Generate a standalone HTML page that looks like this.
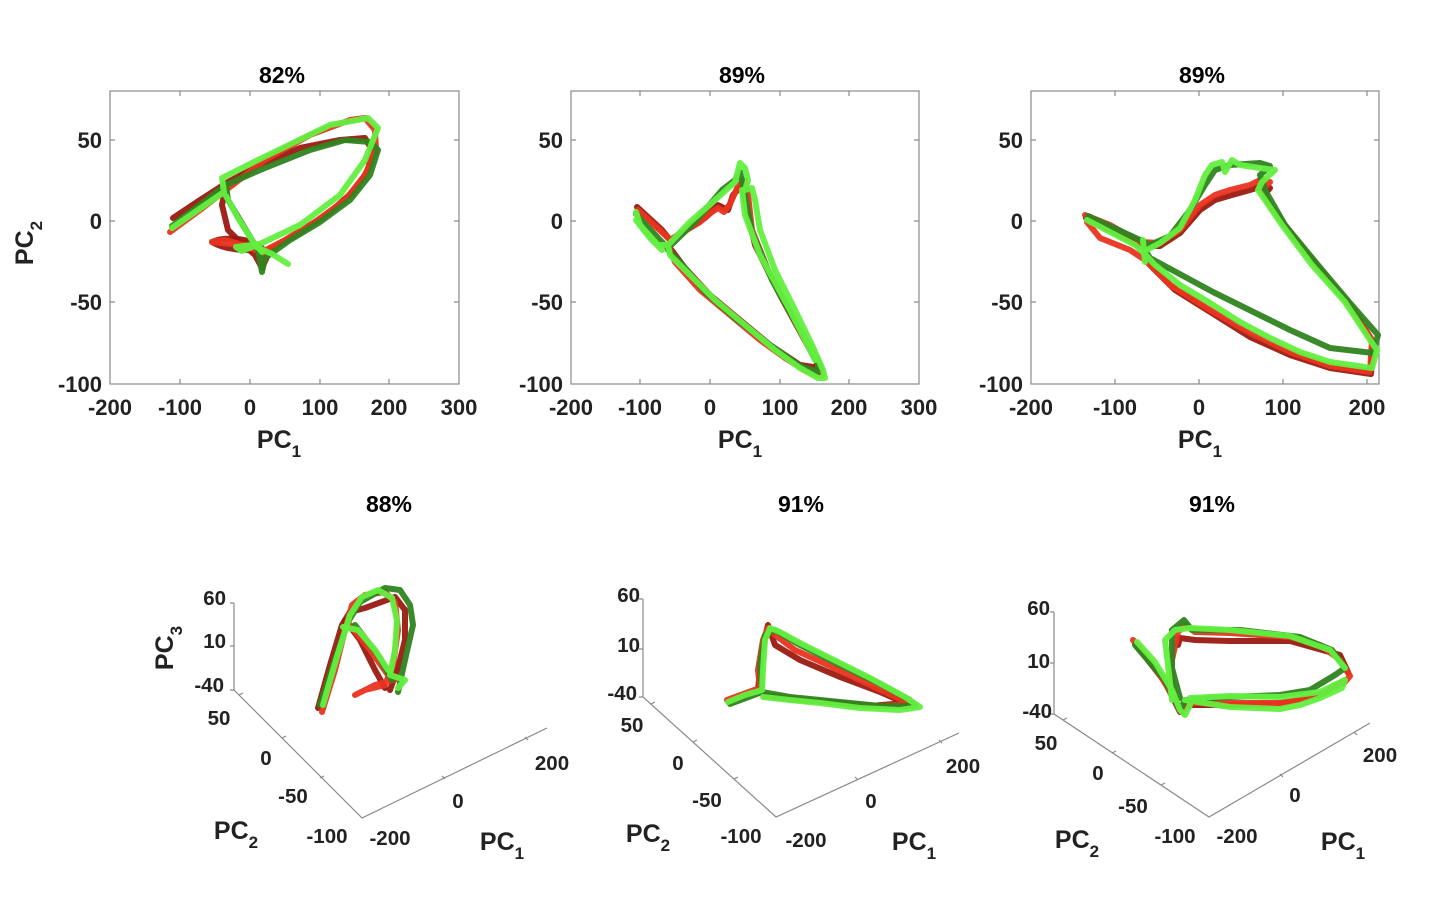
<!DOCTYPE html>
<html><head><meta charset="utf-8"><style>
html,body{margin:0;padding:0;background:#fff;}
svg{display:block;}
text{font-family:"Liberation Sans",Arial,sans-serif;font-weight:bold;fill:#222;}
.t{font-size:22px;}
.b{font-size:20.5px;}
.ttl{font-size:23px;fill:#000;}
.lab{font-size:25px;}
.ax{stroke:#8a8a8a;stroke-width:1.2;fill:none;}
.s{fill:none;stroke-width:6;stroke-linejoin:round;stroke-linecap:round;opacity:0.95;}
.dr{stroke:#9a1a10;}
.rd{stroke:#ea3320;}
.dg{stroke:#2f8420;}
.lg{stroke:#63ef40;}
</style></head><body>
<svg width="1446" height="922" viewBox="0 0 1446 922" xmlns="http://www.w3.org/2000/svg">

<!-- ================= TOP LEFT ================= -->
<text class="ttl" x="282" y="83" text-anchor="middle">82%</text>
<rect class="ax" x="110" y="91" width="349" height="293"/>
<g class="ax">
<path d="M180,384v-5M250,384v-5M320,384v-5M389,384v-5M180,91v5M250,91v5M320,91v5M389,91v5"/>
<path d="M110,140h5M110,221h5M110,302h5M459,140h-5M459,221h-5M459,302h-5"/>
</g>
<g class="t" text-anchor="middle">
<text x="110" y="415">-200</text><text x="180" y="415">-100</text><text x="250" y="415">0</text>
<text x="320" y="415">100</text><text x="389" y="415">200</text><text x="459" y="415">300</text>
</g>
<g class="t" text-anchor="end">
<text x="102" y="148">50</text><text x="102" y="229">0</text><text x="102" y="310">-50</text><text x="102" y="392">-100</text>
</g>
<text class="lab" x="279" y="448" text-anchor="middle">PC<tspan font-size="17" dy="9">1</tspan></text>
<text class="lab" transform="translate(33,243) rotate(-90)" text-anchor="middle">PC<tspan font-size="17" dy="9">2</tspan></text>

<polyline class="s dr" points="173,218 200,200 228,182 260,165 300,148 340,140 365,138 372,150 368,170 355,190 330,212 300,232 270,250 262,268 255,255 240,242 228,230 222,205 226,185"/>
<path class="s dr" d="M212,242 C225,236 250,238 262,248 C250,252 225,250 212,242"/>
<polyline class="s rd" points="170,232 200,210 226,190 265,160 310,135 350,120 365,118 375,130 376,150 365,175 345,200 315,222 285,240 262,252 240,245 212,242 225,240 255,248 265,258"/>
<polyline class="s dg" points="172,226 226,185 260,170 310,150 345,140 370,142 378,150 370,175 350,200 320,222 290,240 265,258 262,272 258,250 240,220 228,200 226,185"/>
<polyline class="s lg" points="172,228 224,192 222,178 262,158 330,125 368,118 378,128 365,160 340,195 300,225 262,243 242,251 236,247 252,245 272,254 288,264"/>
<polyline class="s lg" points="226,196 238,218 252,240 262,252"/>

<!-- ================= TOP MIDDLE ================= -->
<text class="ttl" x="742" y="83" text-anchor="middle">89%</text>
<rect class="ax" x="571" y="91" width="348" height="293"/>
<g class="ax">
<path d="M640,384v-5M710,384v-5M780,384v-5M849,384v-5M640,91v5M710,91v5M780,91v5M849,91v5"/>
<path d="M571,140h5M571,221h5M571,302h5M919,140h-5M919,221h-5M919,302h-5"/>
</g>
<g class="t" text-anchor="middle">
<text x="571" y="415">-200</text><text x="640" y="415">-100</text><text x="710" y="415">0</text>
<text x="780" y="415">100</text><text x="849" y="415">200</text><text x="919" y="415">300</text>
</g>
<g class="t" text-anchor="end">
<text x="563" y="148">50</text><text x="563" y="229">0</text><text x="563" y="310">-50</text><text x="563" y="392">-100</text>
</g>
<text class="lab" x="740" y="448" text-anchor="middle">PC<tspan font-size="17" dy="9">1</tspan></text>

<polyline class="s dr" points="637,207 662,230 670,240 705,218 718,205 728,210 733,195 742,185 746,205 755,245 780,295 810,350 820,368 800,365 770,345 740,320 710,295 685,268 670,248"/>
<polyline class="s rd" points="638,210 665,235 670,240 700,222 712,212 718,208 724,212 730,204 738,186 745,180 748,195 752,230 770,275 795,320 820,365 822,375 808,372 785,358 760,340 730,315 700,290 675,262 668,245"/>
<polyline class="s dg" points="636,214 660,240 668,248 695,222 722,190 735,180 740,172 745,195 752,232 772,280 800,330 818,362 818,372 800,366 770,345 735,318 705,292 680,262 668,250"/>
<polyline class="s lg" points="636,212 640,225 658,245 668,245 690,222 715,200 735,182 740,163 745,168 748,180 745,190 752,188 755,200 760,230 775,270 795,310 812,345 823,370 825,378 818,378 800,368 775,350 745,325 715,300 690,275 670,255 668,245"/>
<polyline class="s lg" points="742,190 745,215 760,255 790,310 815,360"/>
<polyline class="s lg" points="636,220 650,238 662,250"/>

<!-- ================= TOP RIGHT ================= -->
<text class="ttl" x="1202" y="83" text-anchor="middle">89%</text>
<rect class="ax" x="1031" y="91" width="348" height="293"/>
<g class="ax">
<path d="M1115,384v-5M1199,384v-5M1283,384v-5M1367,384v-5M1115,91v5M1199,91v5M1283,91v5M1367,91v5"/>
<path d="M1031,140h5M1031,221h5M1031,302h5M1379,140h-5M1379,221h-5M1379,302h-5"/>
</g>
<g class="t" text-anchor="middle">
<text x="1031" y="415">-200</text><text x="1115" y="415">-100</text><text x="1199" y="415">0</text>
<text x="1283" y="415">100</text><text x="1367" y="415">200</text>
</g>
<g class="t" text-anchor="end">
<text x="1023" y="148">50</text><text x="1023" y="229">0</text><text x="1023" y="310">-50</text><text x="1023" y="392">-100</text>
</g>
<text class="lab" x="1200" y="448" text-anchor="middle">PC<tspan font-size="17" dy="9">1</tspan></text>

<polyline class="s dr" points="1086,218 1110,230 1140,246 1160,246 1180,233 1200,210 1215,200 1232,195 1250,190 1262,186 1270,188 1264,195 1272,208 1292,235 1322,272 1352,308 1373,342 1371,374 1330,368 1290,355 1250,337 1215,315 1175,290 1150,265 1145,255"/>
<polyline class="s rd" points="1085,215 1110,225 1140,242 1160,243 1180,230 1200,205 1215,195 1230,190 1250,185 1260,180 1270,182 1262,190 1270,205 1290,232 1320,270 1350,305 1372,340 1370,372 1330,366 1290,352 1250,333 1210,310 1170,285 1145,260 1130,250 1100,238 1087,222"/>
<polyline class="s dg" points="1088,216 1140,240 1150,245 1170,236 1190,210 1205,185 1215,170 1230,165 1260,163 1270,166 1260,175 1265,190 1285,225 1318,265 1350,303 1378,335 1373,353 1330,348 1290,330 1213,292 1150,258 1145,250"/>
<polyline class="s lg" points="1087,220 1110,232 1135,245 1143,252 1160,243 1180,228 1195,200 1205,175 1212,165 1222,162 1225,172 1232,160 1240,165 1260,168 1275,170 1262,182 1258,190 1265,200 1282,225 1312,265 1345,302 1370,340 1377,350 1372,368 1330,362 1300,352 1270,338 1240,322 1210,303 1180,285 1155,265 1143,252"/>
<polyline class="s lg" points="1143,240 1145,262"/>

<!-- ================= BOTTOM LEFT ================= -->
<text class="ttl" x="389" y="512" text-anchor="middle">88%</text>
<g class="ax">
<path d="M234,603V690L362,818L547,728"/>
<path d="M234,603h-4M234,646h-4M234,690h-4"/>
<path d="M239,695l4,-2M282,738l4,-2M320,778l4,-2"/>
<path d="M445,779l-3,-3M528,740l-3,-3"/>
</g>
<g class="b" text-anchor="end">
<text x="226" y="605">60</text><text x="226" y="648">10</text><text x="224" y="692">-40</text>
</g>
<g class="b" text-anchor="middle">
<text x="219" y="725">50</text><text x="266" y="765">0</text><text x="293" y="803">-50</text><text x="327" y="843">-100</text>
<text x="390" y="845">-200</text><text x="458" y="808">0</text><text x="552" y="770">200</text>
</g>
<text class="lab" x="236" y="839" text-anchor="middle">PC<tspan font-size="17" dy="9">2</tspan></text>
<text class="lab" x="502" y="850" text-anchor="middle">PC<tspan font-size="17" dy="9">1</tspan></text>
<text class="lab" transform="translate(173,648) rotate(-90)" text-anchor="middle">PC<tspan font-size="17" dy="9">3</tspan></text>

<polyline class="s dr" points="318,708 330,665 342,625 350,612 365,608 395,597 405,610 405,640 398,668 390,690"/>
<polyline class="s dr" points="345,620 360,640 375,670 385,688"/>
<polyline class="s rd" points="322,712 335,670 345,630 352,605 365,595 385,592 395,602 398,630 393,665 385,685 365,690 355,695 375,685 400,678"/>
<polyline class="s rd" points="350,625 370,650 388,675"/>
<polyline class="s dg" points="320,705 333,665 348,622 360,602 385,588 400,590 410,605 413,625 405,660 398,692"/>
<polyline class="s dg" points="355,625 378,655 392,680"/>
<polyline class="s lg" points="323,705 336,660 350,615 362,597 378,590 392,598 397,620 395,650 390,675 405,680 398,688"/>
<polyline class="s lg" points="343,627 358,630 375,650 388,670"/>

<!-- ================= BOTTOM MIDDLE ================= -->
<text class="ttl" x="801" y="512" text-anchor="middle">91%</text>
<g class="ax">
<path d="M643,599V697L776,817L959,733"/>
<path d="M643,599h-4M643,649h-4M643,697h-4"/>
<path d="M651,704l4,-2M693,742l4,-2M734,779l4,-2"/>
<path d="M858,780l-3,-3M942,743l-3,-3"/>
</g>
<g class="b" text-anchor="end">
<text x="640" y="602">60</text><text x="640" y="652">10</text><text x="637" y="700">-40</text>
</g>
<g class="b" text-anchor="middle">
<text x="632" y="732">50</text><text x="678" y="770">0</text><text x="707" y="807">-50</text><text x="741" y="843">-100</text>
<text x="806" y="847">-200</text><text x="871" y="808">0</text><text x="963" y="773">200</text>
</g>
<text class="lab" x="648" y="842" text-anchor="middle">PC<tspan font-size="17" dy="9">2</tspan></text>
<text class="lab" x="914" y="850" text-anchor="middle">PC<tspan font-size="17" dy="9">1</tspan></text>

<polyline class="s dr" points="729,702 758,690 762,650 768,625 775,645 800,660 840,677 880,692 905,703 870,706 830,702 790,699 765,696"/>
<polyline class="s rd" points="727,700 760,688 758,670 763,640 768,628 775,635 795,650 830,666 870,685 900,699 915,704 880,706 840,703 800,700 765,695"/>
<polyline class="s dg" points="730,704 762,692 760,665 765,635 775,630 800,645 840,665 880,684 910,700 915,706 880,706 830,701 790,697 762,692"/>
<polyline class="s lg" points="728,702 745,695 762,690 763,670 765,640 770,628 780,632 800,643 830,658 870,678 905,697 920,707 900,710 860,708 820,703 790,700 763,697"/>

<!-- ================= BOTTOM RIGHT ================= -->
<text class="ttl" x="1212" y="512" text-anchor="middle">91%</text>
<g class="ax">
<path d="M1054,612V714L1209,817L1370,723"/>
<path d="M1054,612h-4M1054,663h-4M1054,714h-4"/>
<path d="M1063,720l4,-2M1112,753l4,-2M1161,785l4,-2"/>
<path d="M1283,777l-3,-3M1357,735l-3,-3"/>
</g>
<g class="b" text-anchor="end">
<text x="1050" y="615">60</text><text x="1050" y="668">10</text><text x="1052" y="718">-40</text>
</g>
<g class="b" text-anchor="middle">
<text x="1046" y="750">50</text><text x="1098" y="780">0</text><text x="1133" y="813">-50</text><text x="1175" y="843">-100</text>
<text x="1237" y="843">-200</text><text x="1295" y="802">0</text><text x="1380" y="762">200</text>
</g>
<text class="lab" x="1077" y="848" text-anchor="middle">PC<tspan font-size="17" dy="9">2</tspan></text>
<text class="lab" x="1343" y="850" text-anchor="middle">PC<tspan font-size="17" dy="9">1</tspan></text>

<polyline class="s dr" points="1136,645 1165,682 1180,712 1190,705 1230,705 1280,704 1320,695 1345,680"/>
<polyline class="s dr" points="1178,645 1180,638 1195,640 1230,641 1290,641 1340,655 1348,672"/>
<polyline class="s rd" points="1133,640 1160,675 1175,700 1183,712 1187,703 1230,703 1280,703 1320,695 1345,682 1350,676 1340,660 1320,645 1290,637 1230,633 1195,632 1185,625 1178,632 1172,660 1172,690"/>
<polyline class="s dg" points="1135,645 1165,680 1180,710 1185,700 1230,697 1280,695 1310,690 1335,675 1345,668"/>
<polyline class="s dg" points="1180,698 1172,668 1172,630 1184,620 1192,630 1240,630 1300,637 1332,650 1345,668"/>
<polyline class="s lg" points="1137,642 1155,662 1172,690 1180,710 1185,715 1190,705 1190,698 1230,696 1280,697 1320,692 1345,680 1342,688 1320,698 1300,705 1280,709 1230,707 1185,700"/>
<polyline class="s lg" points="1172,700 1168,665 1165,640 1175,630 1190,628 1230,630 1290,636 1330,650 1345,668"/>

</svg>
</body></html>
